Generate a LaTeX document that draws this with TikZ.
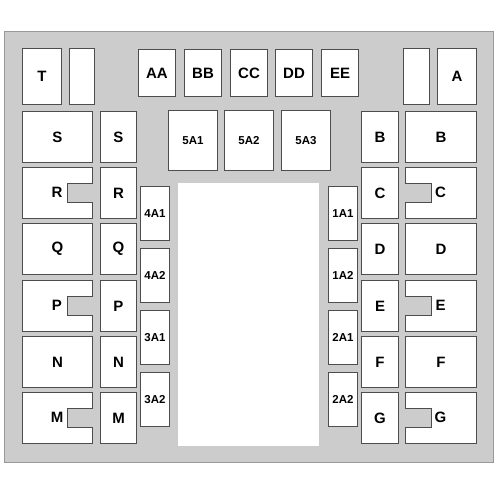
\documentclass[tikz,border=0pt]{standalone}
\usepackage{fontspec}
\setmainfont{Liberation Sans}
\definecolor{panel}{HTML}{CCCCCC}
\definecolor{edge}{HTML}{4D4D4D}
\definecolor{rim}{HTML}{999999}

\begin{document}
\begin{tikzpicture}[x=1pt,y=-1pt,
	fuse/.style={draw=edge,fill=white,line width=1pt,inner sep=0pt,anchor=north west,font=\bfseries\fontsize{15}{15}\selectfont},
	mini/.style={fuse,font=\bfseries\fontsize{11.5}{11.5}\selectfont},
	relay/.style={draw=edge,fill=white,line width=1pt},
	tag/.style={font=\bfseries\fontsize{15}{15}\selectfont}]

	\useasboundingbox[fill=white] (0,0) rectangle (500,500);
	\filldraw[fill=panel,draw=rim,line width=1pt] (4,32) rectangle (493,462);
	\fill[white] (178,183) rectangle (319,446);

	% top row
	\node[fuse,minimum width=39,minimum height=56] (T) at (22,48) {T};
	\node[fuse,minimum width=25,minimum height=56] (blankT) at (69,48) {};
	\node[fuse,minimum width=26,minimum height=56] (blankA) at (403,48) {};
	\node[fuse,minimum width=39,minimum height=56] (A) at (437,48) {A};
	\foreach \lab/\x in {AA/138,BB/184,CC/230,DD/275,EE/321}
		\node[fuse,minimum width=37,minimum height=47] (\lab) at (\x,49) {\lab};
	\foreach \lab/\x in {5A1/168,5A2/224,5A3/281}
		\node[mini,minimum width=49,minimum height=60] (f\lab) at (\x,110) {\lab};

	% side columns
	\foreach \lab/\y in {4A1/186,4A2/248,3A1/310,3A2/372}
		\node[mini,minimum width=29,minimum height=54] (f\lab) at (140,\y) {\lab};
	\foreach \lab/\y in {1A1/186,1A2/248,2A1/310,2A2/372}
		\node[mini,minimum width=29,minimum height=54] (f\lab) at (328,\y) {\lab};

	% left rows
	\foreach \lab/\y in {S/111,R/167,Q/223,P/280,N/336,M/392}
		\node[fuse,minimum width=36,minimum height=51] (sm\lab) at (100,\y) {\lab};
	\foreach \lab/\y in {S/111,Q/223,N/336}
		\node[fuse,minimum width=70,minimum height=51] (big\lab) at (22,\y) {\lab};
	\foreach \lab/\y in {R/167,P/280,M/392} {
		\draw[relay] (22,\y) -- ++(70,0) -- ++(0,16) -- ++(-25,0) -- ++(0,19) -- ++(25,0) -- ++(0,16) -- ++(-70,0) -- cycle;
		\node[tag] (big\lab) at (57,{\y+25}) {\lab};
	}

	% right rows
	\foreach \lab/\y in {B/111,C/167,D/223,E/280,F/336,G/392}
		\node[fuse,minimum width=37,minimum height=51] (sm\lab) at (361,\y) {\lab};
	\foreach \lab/\y in {B/111,D/223,F/336}
		\node[fuse,minimum width=71,minimum height=51] (big\lab) at (405,\y) {\lab};
	\foreach \lab/\y in {C/167,E/280,G/392} {
		\draw[relay] (405,\y) -- ++(71,0) -- ++(0,51) -- ++(-71,0) -- ++(0,-16) -- ++(26,0) -- ++(0,-19) -- ++(-26,0) -- cycle;
		\node[tag] (big\lab) at (440.5,{\y+25}) {\lab};
	}

\end{tikzpicture}
\end{document}
